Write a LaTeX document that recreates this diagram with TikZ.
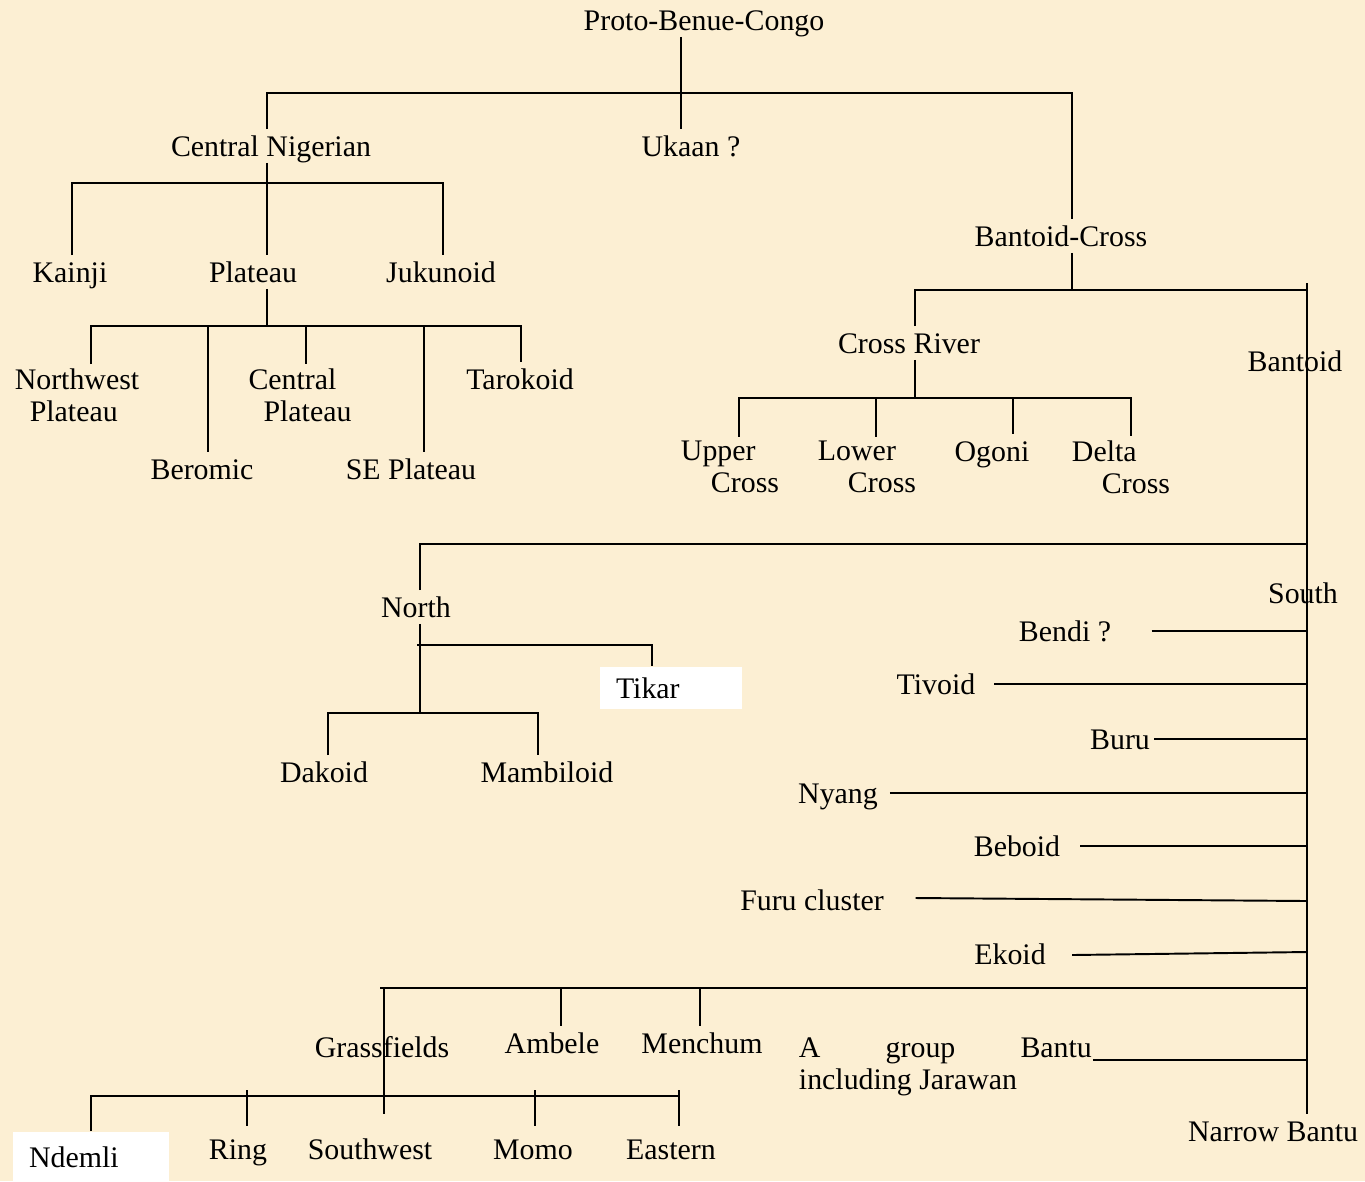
\documentclass[tikz,border=0pt]{standalone}
\usepackage{fontspec}
\setmainfont{Liberation Serif}
\usetikzlibrary{calc}
\definecolor{parchment}{RGB}{252,239,211}
\newcommand{\ind}[1]{\hspace*{#1}}

\begin{document}
\begin{tikzpicture}[x=0.02cm, y=-0.02cm, line width=1.1pt,
    txt/.style={inner sep=2pt, font=\fontsize{17}{18.2}\selectfont},
    lbl/.style={txt, text height=13pt, text depth=1.2pt},
    two/.style={txt, align=left},
    boxed/.style={txt, fill=white, align=left, inner xsep=0.32cm, inner ysep=0pt}]
    \useasboundingbox (0,0) rectangle (1365,1181);
    \fill[parchment] (0,0) rectangle (1365,1181);

    % top levels
    \node[lbl] (pbc) at (704,20) {Proto-Benue-Congo};
    \node[lbl] (ukaan) at (691,146) {Ukaan ?};
    \node[lbl] (cn) at (271,146) {Central Nigerian};
    \node[lbl] (bc) at (1061,236) {Bantoid-Cross};

    % Central Nigerian
    \node[lbl] (kainji) at (70,272) {Kainji};
    \node[lbl] (plateau) at (253,272) {Plateau};
    \node[lbl] (jukunoid) at (441,272) {Jukunoid};
    \node[two] (nwp) at (77,395) {Northwest\\\ind{0.3cm}Plateau};
    \node[two] (cp) at (300,395) {Central\\\ind{0.3cm}Plateau};
    \node[lbl] (tarokoid) at (520,379) {Tarokoid};
    \node[lbl] (beromic) at (202,469) {Beromic};
    \node[lbl] (sep) at (411,469) {SE Plateau};

    % Cross River
    \node[lbl] (cr) at (909,343) {Cross River};
    \node[lbl] (bantoid) at (1295,361) {Bantoid};
    \node[two] (uc) at (730,467) {Upper\\\ind{0.6cm}Cross};
    \node[two] (lc) at (867,467) {Lower\\\ind{0.6cm}Cross};
    \node[lbl] (ogoni) at (992,451) {Ogoni};
    \node[two] (dc) at (1121,467) {Delta\\\ind{0.6cm}Cross};

    % North
    \node[lbl] (north) at (416,607) {North};
    \node[boxed, minimum height=0.84cm, text width=2.2cm] (tikar) at (671,688) {Tikar};
    \node[lbl] (dakoid) at (324,772) {Dakoid};
    \node[lbl] (mambiloid) at (547,772) {Mambiloid};

    % South
    \node[lbl] (south) at (1303,593) {South};
    \node[lbl] (bendi) at (1065,631) {Bendi ?};
    \node[lbl] (tivoid) at (936,684) {Tivoid};
    \node[lbl] (buru) at (1120,739) {Buru};
    \node[lbl] (nyang) at (838,793) {Nyang};
    \node[lbl] (beboid) at (1017,846) {Beboid};
    \node[lbl] (furu) at (812,900) {Furu cluster};
    \node[lbl] (ekoid) at (1010,954) {Ekoid};
    \node[lbl] (grass) at (382,1047) {Grassfields};
    \node[lbl] (ambele) at (552,1043) {Ambele};
    \node[lbl] (menchum) at (702,1043) {Menchum};
    \node[two, inner sep=0pt, anchor=west] (agroup) at (798,1067) {\makebox[5.86cm][s]{A group Bantu}\\including Jarawan};
    \node[lbl] (nbantu) at (1273,1131) {Narrow Bantu};

    % Grassfields
    \node[boxed, minimum height=1cm, text width=2.48cm] (ndemli) at (91,1157) {Ndemli};
    \node[lbl] (ring) at (238,1149) {Ring};
    \node[lbl] (southwest) at (370,1149) {Southwest};
    \node[lbl] (momo) at (533,1149) {Momo};
    \node[lbl] (eastern) at (671,1149) {Eastern};

    \coordinate (spine) at (1307,283);

    \draw (pbc.south -| 681,0) -- (ukaan.north -| 681,0);
    \draw (cn.north -| 267,0) |- (1072,93) -- (bc.north -| 1072,0);

    \draw (cn.south -| 267,0) -- (plateau.north -| 267,0);
    \draw (kainji.north -| 72,0) |- (443,183) -- (jukunoid.north -| 443,0);

    \draw (plateau.south -| 267,0) -- (267,326);
    \draw (nwp.north -| 91,0) |- (521,326) -- (tarokoid.north -| 521,0);
    \draw (208,326) -- (beromic.north -| 208,0);
    \draw (306,326) -- (cp.north -| 306,0);
    \draw (424,326) -- (sep.north -| 424,0);

    \draw (bc.south -| 1072,0) -- (1072,290);
    \draw (cr.north -| 915,0) |- (1307,290);
    \draw (spine) -- (nbantu.north -| spine);

    \draw (cr.south -| 915,0) -- (915,398);
    \draw (uc.north -| 739,0) |- (1131,398) -- (dc.north -| 1131,0);
    \draw (876,398) -- (lc.north -| 876,0);
    \draw (1013,398) -- (ogoni.north -| 1013,0);

    \draw (north.north -| 420,0) |- (1307,544);
    \draw (north.south -| 420,0) -- (420,713);
    \draw (417,645) -| (tikar.north -| 652,0);
    \draw (dakoid.north -| 328,0) |- (538,713) -- (mambiloid.north -| 538,0);

    \draw ([xshift=0.72cm]bendi.east) -- (bendi.east -| spine);
    \draw ([xshift=0.29cm]tivoid.east) -- (tivoid.east -| spine);
    \draw (buru.east) -- (buru.east -| spine);
    \draw ([xshift=0.15cm]nyang.east) -- (nyang.east -| spine);
    \draw ([xshift=0.31cm]beboid.east) -- (beboid.east -| spine);
    \draw ([xshift=0.55cm, yshift=0.04cm]furu.east) -- ([yshift=-0.02cm]furu.east -| spine);
    \draw ([xshift=0.44cm, yshift=-0.02cm]ekoid.east) -- ([yshift=0.04cm]ekoid.east -| spine);
    \draw ([yshift=0.14cm]agroup.east) -- ([yshift=0.14cm]agroup.east -| spine);

    \draw (380,988) -- (1307,988);
    \draw (384,988) -- ([yshift=0.36cm]southwest.north -| 384,0);
    \draw (561,988) -- (ambele.north -| 561,0);
    \draw (700,988) -- (menchum.north -| 700,0);
    \draw (ndemli.north -| 91,0) |- (680,1096);
    \draw (247,1090) -- ([yshift=0.12cm]ring.north -| 247,0);
    \draw (535,1090) -- ([yshift=0.12cm]momo.north -| 535,0);
    \draw (679,1090) -- ([yshift=0.12cm]eastern.north -| 679,0);
\end{tikzpicture}
\end{document}
